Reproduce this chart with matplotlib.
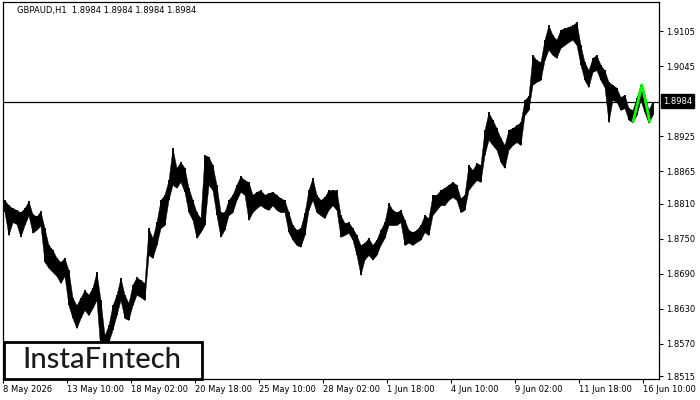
import numpy as np
import matplotlib
matplotlib.use("Agg")
import matplotlib.pyplot as plt
from matplotlib.patches import Rectangle

# GBPAUD H1, aggregated per 4 hourly bars (high / low)
highs = [1.8816, 1.8807, 1.8802, 1.8799, 1.8795, 1.8802, 1.8814, 1.8792, 1.8788, 1.8797,
         1.8768, 1.8739, 1.8731, 1.8717, 1.8710, 1.8717, 1.8696, 1.8649, 1.8636, 1.8649,
         1.8662, 1.8654, 1.8666, 1.8693, 1.8645, 1.8585, 1.8602, 1.8636, 1.8654, 1.8683,
         1.8654, 1.8640, 1.8671, 1.8684, 1.8679, 1.8674, 1.8768, 1.8751, 1.8778, 1.8816,
         1.8825, 1.8850, 1.8905, 1.8871, 1.8881, 1.8871, 1.8837, 1.8816, 1.8795, 1.8785,
         1.8893, 1.8890, 1.8876, 1.8842, 1.8795, 1.8795, 1.8816, 1.8825, 1.8842, 1.8857,
         1.8850, 1.8847, 1.8825, 1.8830, 1.8833, 1.8825, 1.8828, 1.8830, 1.8825, 1.8819,
         1.8816, 1.8795, 1.8773, 1.8765, 1.8768, 1.8794, 1.8833, 1.8854, 1.8825, 1.8816,
         1.8821, 1.8833, 1.8833, 1.8833, 1.8790, 1.8777, 1.8778, 1.8768, 1.8756, 1.8739,
         1.8743, 1.8751, 1.8739, 1.8748, 1.8765, 1.8778, 1.8811, 1.8799, 1.8795, 1.8799,
         1.8782, 1.8765, 1.8761, 1.8765, 1.8773, 1.8790, 1.8785, 1.8825, 1.8825, 1.8833,
         1.8837, 1.8842, 1.8847, 1.8842, 1.8819, 1.8825, 1.8876, 1.8867, 1.8879, 1.8876,
         1.8936, 1.8966, 1.8953, 1.8939, 1.8922, 1.8910, 1.8936, 1.8939, 1.8944, 1.8949,
         1.8987, 1.8994, 1.9064, 1.9055, 1.9052, 1.9090, 1.9115, 1.9098, 1.9090, 1.9107,
         1.9110, 1.9112, 1.9115, 1.9120, 1.9081, 1.9052, 1.9038, 1.9059, 1.9064, 1.9047,
         1.9038, 1.9018, 1.9013, 1.9008, 1.8992, 1.8996, 1.8973, 1.8970, 1.8990, 1.9013,
         1.8996, 1.8970, 1.8984]
lows = [1.8795, 1.8756, 1.8778, 1.8775, 1.8753, 1.8773, 1.8790, 1.8760, 1.8765, 1.8772,
        1.8710, 1.8700, 1.8693, 1.8686, 1.8674, 1.8686, 1.8636, 1.8614, 1.8597, 1.8614,
        1.8628, 1.8619, 1.8631, 1.8645, 1.8556, 1.8556, 1.8573, 1.8594, 1.8619, 1.8645,
        1.8614, 1.8611, 1.8636, 1.8654, 1.8650, 1.8645, 1.8722, 1.8717, 1.8739, 1.8768,
        1.8773, 1.8816, 1.8842, 1.8837, 1.8847, 1.8830, 1.8795, 1.8782, 1.8751, 1.8761,
        1.8773, 1.8842, 1.8833, 1.8790, 1.8753, 1.8765, 1.8790, 1.8795, 1.8816, 1.8830,
        1.8825, 1.8782, 1.8795, 1.8802, 1.8807, 1.8802, 1.8799, 1.8807, 1.8799, 1.8795,
        1.8795, 1.8761, 1.8748, 1.8739, 1.8736, 1.8756, 1.8799, 1.8816, 1.8795, 1.8790,
        1.8785, 1.8799, 1.8807, 1.8799, 1.8753, 1.8756, 1.8760, 1.8748, 1.8722, 1.8688,
        1.8714, 1.8722, 1.8714, 1.8722, 1.8739, 1.8751, 1.8773, 1.8773, 1.8773, 1.8778,
        1.8739, 1.8743, 1.8739, 1.8744, 1.8748, 1.8761, 1.8756, 1.8790, 1.8799, 1.8807,
        1.8807, 1.8816, 1.8821, 1.8816, 1.8795, 1.8799, 1.8833, 1.8842, 1.8850, 1.8847,
        1.8893, 1.8919, 1.8910, 1.8902, 1.8881, 1.8871, 1.8902, 1.8910, 1.8915, 1.8910,
        1.8961, 1.8970, 1.9013, 1.9018, 1.9021, 1.9055, 1.9073, 1.9064, 1.9059, 1.9076,
        1.9081, 1.9086, 1.9090, 1.9081, 1.9047, 1.9021, 1.9009, 1.9035, 1.9038, 1.9021,
        1.9009, 1.8949, 1.8987, 1.8984, 1.8970, 1.8973, 1.8953, 1.8949, 1.8961, 1.8987,
        1.8966, 1.8948, 1.8961]
bars_per_point = 4

# pattern lines (green), in hourly bar index / price
pattern_x = [630, 639, 647]
pattern_y = [1.8949, 1.9013, 1.8948]

last_price = 1.8984
title = "GBPAUD,H1  1.8984 1.8984 1.8984 1.8984"

ytick_vals = [1.9105, 1.9045, 1.8925, 1.8865, 1.8810, 1.8750, 1.8690, 1.8630, 1.8570, 1.8515]
xtick_pos = [0, 64, 128, 192, 256, 320, 384, 448, 512, 576, 640]
xtick_labels = ["8 May 2026", "13 May 10:00", "18 May 02:00", "20 May 18:00", "25 May 10:00",
                "28 May 02:00", "1 Jun 18:00", "4 Jun 10:00", "9 Jun 02:00", "11 Jun 18:00",
                "16 Jun 10:00"]

W, H = 700, 400
fig = plt.figure(figsize=(7, 4), dpi=100)
fig.patch.set_facecolor("white")
ax = fig.add_axes([2.5 / W, 21.5 / H, 656.5 / W, 376.5 / H])

x = np.arange(len(highs)) * bars_per_point + 1.5
ax.fill_between(x, lows, highs, color="black", lw=0.3)
ax.vlines(x, lows, highs, color="black", lw=1.3)

ax.axhline(last_price, color="black", lw=0.9)
ax.plot(pattern_x, pattern_y, color="#00ff00", lw=2.0, solid_capstyle="butt")

ax.set_xlim(-0.5, 656)
ax.set_ylim(1.85108, 1.91546)

for s in ax.spines.values():
    s.set_color("black")
    s.set_linewidth(0.9)

ax.yaxis.tick_right()
ax.set_yticks(ytick_vals)
ax.set_yticklabels(["%.4f" % v for v in ytick_vals])
ax.set_xticks(xtick_pos)
ax.set_xticklabels(xtick_labels, ha="left")
ax.tick_params(axis="both", length=3, width=0.8, color="black", labelsize=6, pad=2)

fig.text(17 / W, 1 - 10.5 / H, title, fontsize=6, va="center", ha="left")

# last price tag on the price scale
fig.text(663 / W, 1 - 101 / H, "%.4f" % last_price, fontsize=6, color="white",
         va="center", ha="left",
         bbox=dict(boxstyle="square,pad=0.25", fc="black", ec="black"))

# logo box
fig.patches.append(Rectangle((3.5 / W, 21.5 / H), 198 / W, 36.5 / H, transform=fig.transFigure,
                             facecolor="white", edgecolor="black", lw=2, zorder=5))
fig.text(102 / W, 1 - 359.5 / H, "InstaF\u0131ntech", fontsize=21, color="#1a1a1a",
         family="Lato", weight="medium", va="center", ha="center", zorder=6)

fig.savefig("out.png", dpi=100)
